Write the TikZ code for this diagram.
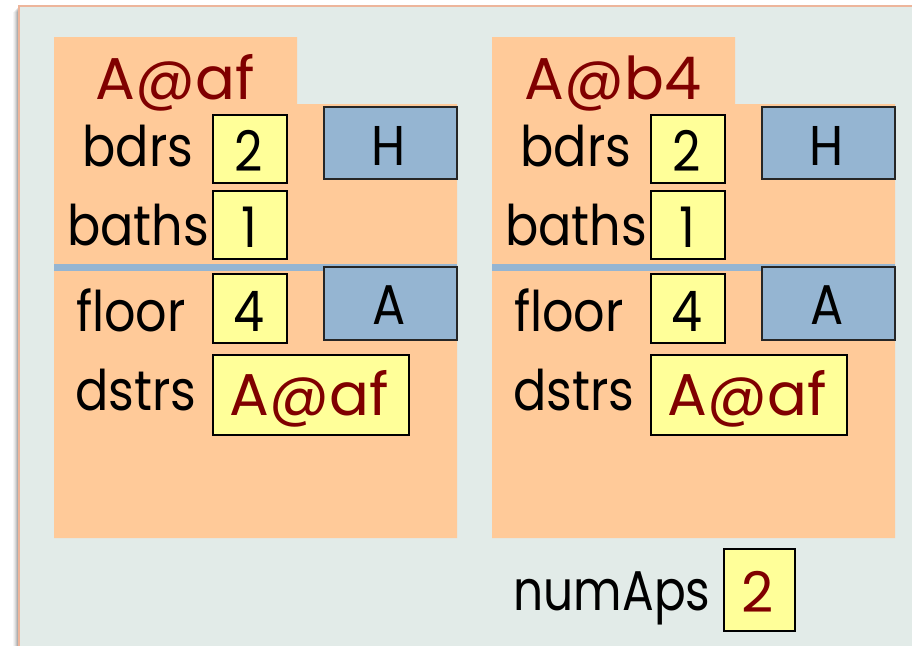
\documentclass[tikz,border=0pt]{standalone}
\usepackage{fontspec}
\setmainfont{Poppins}
\definecolor{bgc}{HTML}{E2EBE8}
\definecolor{framec}{HTML}{EDB59B}
\definecolor{objc}{HTML}{FFCA99}
\definecolor{yelc}{HTML}{FFFF99}
\definecolor{bluec}{HTML}{95B5D2}
\definecolor{redc}{HTML}{800000}
\newcommand{\lab}[2][0.88]{\scalebox{#1}[1]{#2}}
\tikzset{
  valbox/.style={draw=black, line width=1.6pt, fill=yelc, inner sep=0pt, anchor=north west},
  refbox/.style={draw=black!85, line width=1.6pt, fill=bluec, inner sep=0pt, anchor=north west},
  lbl/.style={anchor=base, inner sep=0pt, font=\fontsize{56}{56}\selectfont},
  rlbl/.style={anchor=base, inner sep=0pt, text=redc, font=\fontsize{59}{59}\selectfont},
}
\begin{document}
\begin{tikzpicture}[x=1pt,y=-1pt]
\useasboundingbox (0,0) rectangle (912,645);
\begin{scope}
\clip (0,0) rectangle (912,645);
% shadow
\foreach \d/\o in {6/0.04,5/0.05,4/0.07,3/0.09,2/0.11,1/0.13}{
  \fill[black,opacity=\o] (19-\d,6+\d) rectangle (930,660);
}
\draw[draw=framec, line width=2.2pt, fill=bgc] (19,6) rectangle (930,660);
\end{scope}
% objects
\foreach \ox/\nm/\ttl in {0/L/A@af,438/R/A@b4}{
  \begin{scope}[xshift=\ox]
  \fill[objc] (54,37) -- (297,37) -- (297,104) -- (457,104) -- (457,538) -- (54,538) -- cycle;
  \fill[bluec] (54,264) rectangle (457,271);
  \node[rlbl] (\nm title) at (175,99) {\ttl};
  \node[lbl] (\nm bl) at (138,166) {\lab{bdrs}};
  \node[lbl] (\nm tl) at (138,245) {\lab{baths}};
  \node[lbl] (\nm fl) at (131,331) {\lab{floor}};
  \node[lbl] (\nm dl) at (136,410) {\lab{dstrs}};
  \node[valbox, minimum width=74pt, minimum height=68pt] (\nm bb) at (212,114) {};
  \node[valbox, minimum width=74pt, minimum height=68pt] (\nm tb) at (212,190) {};
  \node[valbox, minimum width=74pt, minimum height=69pt] (\nm fb) at (212,273) {};
  \node[valbox, minimum width=196pt, minimum height=80pt] (\nm db) at (212,354) {};
  \node[refbox, minimum width=133pt, minimum height=72pt] (\nm hb) at (323,106) {};
  \node[refbox, minimum width=133pt, minimum height=73pt] (\nm ab) at (323,266) {};
  \node[lbl] (\nm bv) at (249,171) {\lab{2}};
  \node[lbl] (\nm tv) at (249,247) {\lab{1}};
  \node[lbl] (\nm fv) at (249,331) {\lab{4}};
  \node[rlbl] (\nm dv) at (309,415) {A@af};
  \node[lbl] (\nm hv) at (389,165) {\lab{H}};
  \node[lbl] (\nm av) at (389,324) {\lab{A}};
  \end{scope}
}
\node[lbl] (numlbl) at (612,610) {\lab[0.84]{numAps}};
\node[valbox, minimum width=71pt, minimum height=82pt] (numbox) at (723,548) {};
\node[rlbl, font=\fontsize{56}{56}\selectfont] (numval) at (758,612) {2};
\end{tikzpicture}
\end{document}
